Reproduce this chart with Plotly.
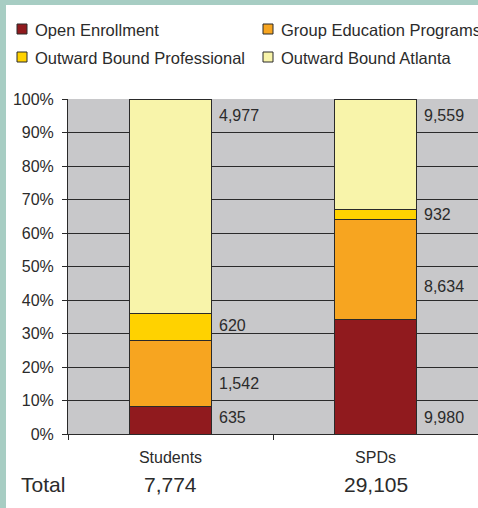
import plotly.graph_objects as go

categories = ["Students", "SPDs"]
series_names = ["Open Enrollment", "Group Education Programs",
                "Outward Bound Professional", "Outward Bound Atlanta"]
open_enrollment = [635, 9980]
group_education = [1542, 8634]
ob_professional = [620, 932]
ob_atlanta = [4977, 9559]
series_values = [open_enrollment, group_education, ob_professional, ob_atlanta]
colors = ["#901a1e", "#f7a520", "#ffd200", "#f8f4aa"]

W, H = 478, 508
ML, MR, MT, MB = 68, 0, 99, 74
PW, PH = W - ML - MR, H - MT - MB

def px_x(x):
    return (x - ML) / PW

def px_y(y):
    return (H - MB - y) / PH

fig = go.Figure()
for name, vals, col in zip(series_names, series_values, colors):
    fig.add_trace(go.Bar(
        x=categories, y=vals, name=name, marker_color=col,
        marker_line=dict(color="#2a2a2a", width=1), showlegend=False,
    ))

totals = [sum(v[i] for v in series_values) for i in range(len(categories))]

annotations = []
shapes = []
txtcol = "#2b2b2b"
font = "Liberation Sans, Arial, sans-serif"

# value labels next to each segment
anchor = ["bottom", "mid", "mid", "top"]
extra_shift = [[0, 0], [-10, -17], [1, 0], [0, 0]]
for ci, cat in enumerate(categories):
    cum = 0.0
    for si, vals in enumerate(series_values):
        pct = vals[ci] / totals[ci] * 100
        if anchor[si] == "bottom":
            yv, ya, ys = 0, "bottom", 6
        elif anchor[si] == "top":
            yv, ya, ys = 100, "top", -6
        else:
            yv, ya, ys = cum + pct / 2, "middle", 0
        annotations.append(dict(
            x=cat, y=yv, xref="x", yref="y", text=f"{vals[ci]:,}",
            showarrow=False, xanchor="left", yanchor=ya, xshift=46,
            yshift=ys + extra_shift[si][ci],
            font=dict(size=16, color=txtcol, family=font)))
        cum += pct

# Total row
annotations.append(dict(x=px_x(19), y=px_y(484), xref="paper", yref="paper",
                        text="Total", showarrow=False, xanchor="left", yanchor="middle",
                        font=dict(size=21, color=txtcol, family=font)))
for cat, tot in zip(categories, totals):
    annotations.append(dict(x=cat, y=px_y(484), xref="x", yref="paper",
                            text=f"{tot:,}", showarrow=False, xanchor="center",
                            yanchor="middle",
                            font=dict(size=21, color=txtcol, family=font)))

# manual legend
leg_pos = [(17, 29), (263, 29), (17, 57), (263, 57)]
for (lx, ly), name, col in zip(leg_pos, series_names, colors):
    shapes.append(dict(type="rect", xref="paper", yref="paper",
                       x0=px_x(lx), x1=px_x(lx + 10), y0=px_y(ly - 5), y1=px_y(ly + 5),
                       fillcolor=col, line=dict(color="#2a2a2a", width=1)))
    annotations.append(dict(x=px_x(lx + 16), y=px_y(ly + 1), xref="paper", yref="paper",
                            text=name, showarrow=False, xanchor="left", yanchor="middle",
                            font=dict(size=16.5, color=txtcol, family=font)))

# teal frame strips
teal = "#a7cdc3"
shapes.append(dict(type="rect", xref="paper", yref="paper", x0=px_x(0), x1=px_x(6),
                   y0=px_y(H), y1=px_y(0), fillcolor=teal, line=dict(width=0)))
shapes.append(dict(type="rect", xref="paper", yref="paper", x0=px_x(0), x1=px_x(W),
                   y0=px_y(5), y1=px_y(0), fillcolor=teal, line=dict(width=0)))

fig.update_layout(
    width=W, height=H, margin=dict(l=ML, r=MR, t=MT, b=MB, pad=0),
    barmode="stack", barnorm="percent", bargap=0.6,
    paper_bgcolor="white", plot_bgcolor="#c8c8ca",
    font=dict(family=font, size=16, color=txtcol),
    annotations=annotations, shapes=shapes, showlegend=False,
)
fig.update_yaxes(range=[0, 100], dtick=10, ticksuffix="%", showgrid=True,
                 gridcolor="#2a2a2a", gridwidth=1, zeroline=False,
                 showline=True, linecolor="#2a2a2a", linewidth=1,
                 ticks="outside", ticklen=5, tickcolor="#2a2a2a",
                 ticklabelstandoff=5, tickfont=dict(size=16, color=txtcol))
fig.update_xaxes(showline=True, linecolor="#2a2a2a", linewidth=1,
                 ticks="outside", ticklen=5, tickcolor="#2a2a2a",
                 tickson="boundaries", ticklabelstandoff=9,
                 tickfont=dict(size=16, color=txtcol))

fig.write_html("out.html", config={"displayModeBar": False},
               post_script="document.body.style.margin='0';document.body.style.overflow='hidden';")
